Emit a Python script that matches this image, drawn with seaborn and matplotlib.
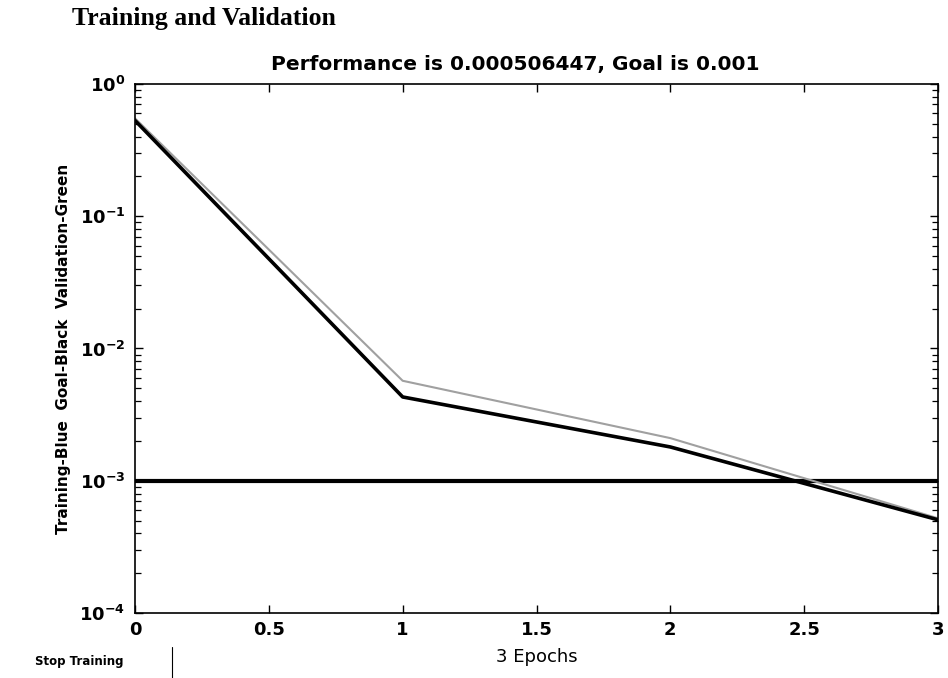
import matplotlib
matplotlib.use("Agg")
import matplotlib.pyplot as plt
import seaborn as sns
import pandas as pd
import numpy as np
from matplotlib.ticker import LogLocator, FixedLocator, FuncFormatter, NullFormatter

epochs = [0, 1, 2, 3]
training = [0.53, 0.0043, 0.0018, 0.000506447]
validation = [0.55, 0.0057, 0.0021, 0.00052]
goal = 0.001
x_ticks = [0, 0.5, 1, 1.5, 2, 2.5, 3]
x_tick_labels = ["0", "0.5", "1", "1.5", "2", "2.5", "3"]

sns.set_theme(style="white")
plt.rcParams["font.family"] = ["DejaVu Sans"]
plt.rcParams["mathtext.fontset"] = "dejavusans"
plt.rcParams["text.color"] = "black"
plt.rcParams["axes.labelcolor"] = "black"
plt.rcParams["ytick.minor.left"] = True
plt.rcParams["ytick.minor.right"] = True

fig = plt.figure(figsize=(9.48, 6.78), dpi=100)
ax = fig.add_axes([0.1424, 0.0959, 0.8471, 0.7802])

df_val = pd.DataFrame({"epoch": epochs, "perf": validation})
df_tr = pd.DataFrame({"epoch": epochs, "perf": training})
df_goal = pd.DataFrame({"epoch": [epochs[0], epochs[-1]], "perf": [goal, goal]})

sns.lineplot(data=df_goal, x="epoch", y="perf", ax=ax, color="black", linewidth=3.0)
sns.lineplot(data=df_val, x="epoch", y="perf", ax=ax, color="#a0a0a0", linewidth=1.5)
sns.lineplot(data=df_tr, x="epoch", y="perf", ax=ax, color="black", linewidth=2.6)

ax.set_yscale("log")
ax.set_ylim(1e-4, 1)
ax.set_xlim(0, 3)
ax.xaxis.set_major_locator(FixedLocator(x_ticks))
ax.set_xticklabels(x_tick_labels)
ax.yaxis.set_major_locator(LogLocator(base=10, numticks=10))
ax.yaxis.set_minor_locator(LogLocator(base=10, subs=np.arange(2, 10), numticks=20))
ax.yaxis.set_minor_formatter(NullFormatter())
ax.yaxis.set_major_formatter(FuncFormatter(
    lambda v, p: r"$\mathbf{10^{%d}}$" % int(round(np.log10(v)))))
ax.tick_params(axis="both", which="both", direction="in", top=True, right=True,
               left=True, bottom=True, colors="black", labelsize=13)
ax.yaxis.set_tick_params(which="minor", left=True, right=True, length=4, width=0.9)
ax.tick_params(axis="x", pad=6)
ax.tick_params(axis="y", which="major", pad=7)
ax.tick_params(which="major", length=6, width=1)
for lbl in ax.get_xticklabels() + ax.get_yticklabels():
    lbl.set_fontweight("bold")
for s in ax.spines.values():
    s.set_color("black")
    s.set_linewidth(1.2)

ax.set_xlabel("3 Epochs", fontsize=13, labelpad=6, color="black")
ax.set_ylabel("Training-Blue  Goal-Black  Validation-Green", fontsize=11,
              fontweight="bold", labelpad=6, color="black")
ax.set_title("Performance is 0.000506447, Goal is 0.001", fontsize=14.5,
             fontweight="bold", pad=10, color="black", x=0.473)

fig.text(0.076, 0.990, "Training and Validation", fontsize=18.5, fontweight="bold",
         family=["Liberation Serif", "DejaVu Serif"], va="top", ha="left", color="black")
fig.text(0.037, 0.024, "Stop Training", fontsize=8.5, fontweight="bold",
         va="center", ha="left", color="black")
fig.add_artist(plt.Line2D([0.181, 0.181], [0.0, 0.045], color="black", linewidth=0.8))

fig.savefig("out.png", dpi=100, facecolor="white")
